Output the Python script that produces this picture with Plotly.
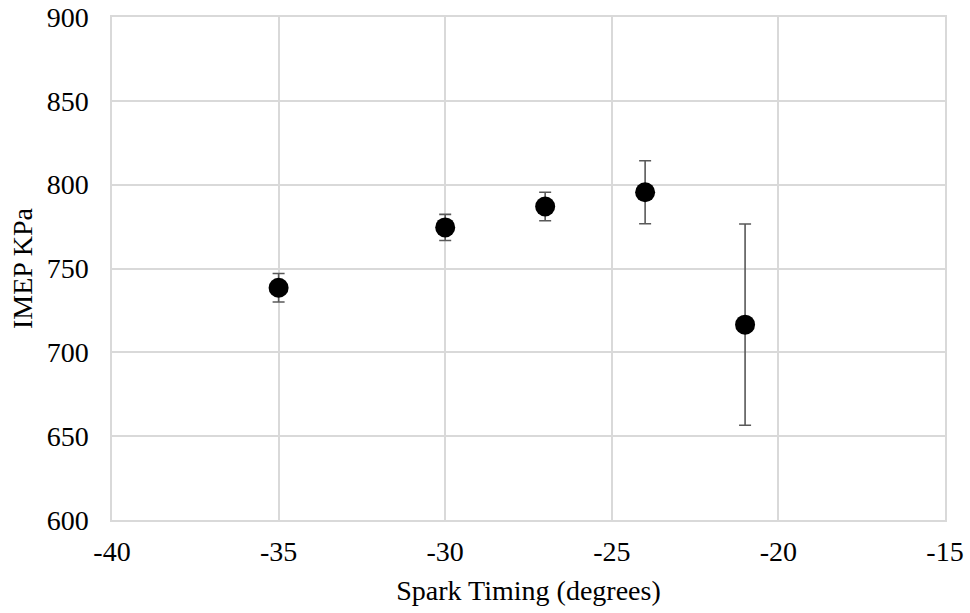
import plotly.graph_objects as go

spark_timing = [-35, -30, -27, -24, -21]
imep = [738.5, 774.5, 787.0, 795.5, 716.5]
err = [8.5, 7.8, 8.5, 18.8, 60.0]

x_ticks = [-40, -35, -30, -25, -20, -15]
y_ticks = [600, 650, 700, 750, 800, 850, 900]

fig = go.Figure()
fig.add_trace(go.Scatter(
    x=spark_timing, y=imep, mode="markers",
    marker=dict(color="black", size=20),
    error_y=dict(type="data", array=err, visible=True, color="#595959",
                 thickness=1.6, width=6),
    showlegend=False,
))

font = dict(family="Liberation Serif, Times New Roman, serif", size=28, color="black")
fig.update_layout(
    width=970, height=613,
    margin=dict(l=112, r=25, t=17, b=93, autoexpand=False),
    paper_bgcolor="white", plot_bgcolor="white",
    font=font,
)
fig.update_xaxes(
    range=[-40, -15], tickvals=x_ticks, ticktext=[str(v) for v in x_ticks],
    showgrid=True, gridcolor="#d9d9d9", gridwidth=1.5,
    showline=True, linecolor="#d9d9d9", linewidth=1.5, mirror=True,
    zeroline=False, ticks="outside", ticklen=6, tickcolor="rgba(0,0,0,0)",
    title=dict(text="Spark Timing (degrees)", font=font, standoff=14),
    tickfont=font, automargin=False,
)
fig.update_yaxes(
    range=[600, 900], tickvals=y_ticks, ticktext=[str(v) for v in y_ticks],
    showgrid=True, gridcolor="#d9d9d9", gridwidth=1.5,
    showline=True, linecolor="#d9d9d9", linewidth=1.5, mirror=True,
    zeroline=False, ticks="outside", ticklen=16, tickcolor="rgba(0,0,0,0)",
    title=dict(text="IMEP KPa", font=font, standoff=6),
    tickfont=font, automargin=False,
)

fig.write_html("out.html")
